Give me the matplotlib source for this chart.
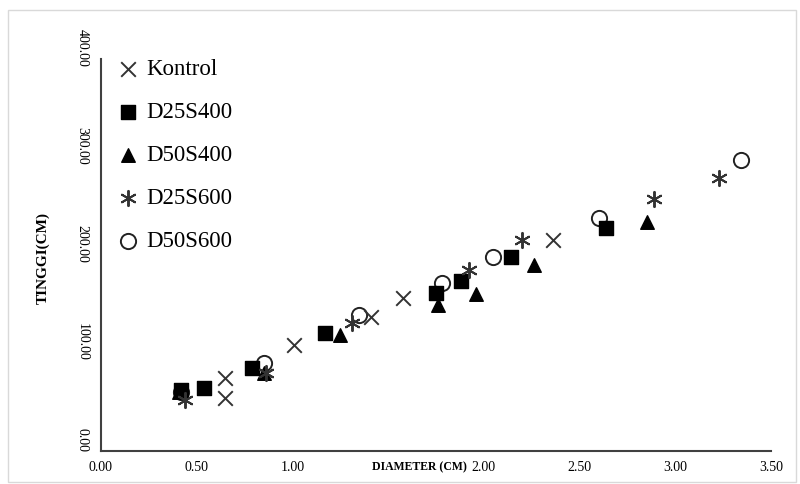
import numpy as np
import matplotlib
matplotlib.use("Agg")
import matplotlib.pyplot as plt
from matplotlib.transforms import ScaledTranslation
from matplotlib.patches import Rectangle

plt.rcParams["font.family"] = ["Liberation Serif", "DejaVu Serif"]

# data (diameter cm, tinggi cm)
kontrol_x = [0.65, 0.65, 1.01, 1.41, 1.58, 2.36]
kontrol_y = [75, 54, 108, 137, 156, 215]
d25s400_x = [0.42, 0.54, 0.79, 1.17, 1.75, 1.88, 2.14, 2.64]
d25s400_y = [62, 64, 85, 120, 161, 174, 198, 228]
d50s400_x = [0.41, 0.85, 1.25, 1.76, 1.96, 2.26, 2.85]
d50s400_y = [60, 80, 118, 149, 160, 190, 234]
d25s600_x = [0.44, 0.86, 1.31, 1.92, 2.20, 2.89, 3.23]
d25s600_y = [52, 80, 131, 185, 215, 257, 279]
d50s600_x = [0.42, 0.85, 1.35, 1.78, 2.05, 2.60, 3.34]
d50s600_y = [60, 90, 139, 172, 198, 238, 297]

x_ticks = [0.0, 0.5, 1.0, 1.5, 2.0, 2.5, 3.0, 3.5]
y_ticks = [0, 100, 200, 300, 400]

fig = plt.figure(figsize=(8, 4.84), dpi=100)
fig.patches.append(Rectangle((0.01, 0.005), 0.985, 0.975, transform=fig.transFigure,
                             fill=False, edgecolor="#d9d9d9", lw=1))
ax = fig.add_axes([0.126, 0.068, 0.838, 0.81])

ax.scatter(d50s600_x, d50s600_y, marker="o", s=120, facecolors="white",
           edgecolors="#222222", linewidths=1.4, label="D50S600", zorder=2)
ax.scatter(kontrol_x, kontrol_y, marker="x", s=110, color="#333333",
           linewidths=1.4, label="Kontrol", zorder=3)
ax.scatter(d25s400_x, d25s400_y, marker="s", s=110, color="black",
           label="D25S400", zorder=4)
ax.scatter(d50s400_x, d50s400_y, marker="^", s=95, color="black",
           label="D50S400", zorder=5)
ax.scatter(d25s600_x, d25s600_y, marker=(6, 2, 0), s=120, color="#333333",
           linewidths=1.4, label="D25S600", zorder=6)

ax.set_xlim(0, 3.5)
ax.set_ylim(0, 400)
ax.set_xticks(x_ticks)
ax.set_xticklabels([f"{v:.2f}" for v in x_ticks], fontsize=10)
ax.set_yticks(y_ticks)
ax.set_yticklabels([f"{v:.2f}" for v in y_ticks], fontsize=10, rotation=-90, va="center")
ax.tick_params(axis="both", length=0)
ax.tick_params(axis="x", pad=7)
ax.tick_params(axis="y", pad=9)
off = ScaledTranslation(0, 0.11, fig.dpi_scale_trans)
for lab in ax.get_yticklabels():
    lab.set_transform(lab.get_transform() + off)

for s in ["top", "right"]:
    ax.spines[s].set_visible(False)
for s in ["left", "bottom"]:
    ax.spines[s].set_color("#404040")
    ax.spines[s].set_linewidth(1.5)

fig.text(419 / 800, 1 - 467 / 484, "DIAMETER (CM)", fontsize=8.5, fontweight="bold",
         ha="center", va="center",
         bbox=dict(facecolor="white", edgecolor="none", pad=2.5))
fig.text(43 / 800, 1 - 258 / 484, "TINGGI(CM)", fontsize=11, fontweight="bold",
         rotation=90, ha="center", va="center")

h, l = ax.get_legend_handles_labels()
order = [1, 2, 3, 4, 0]
ax.legend([h[i] for i in order], [l[i] for i in order], loc="upper left",
          bbox_to_anchor=(-0.005, 1.04), frameon=False, fontsize=16.5,
          handlelength=1.3, handletextpad=0.15, labelspacing=0.95, borderaxespad=0.3)

fig.savefig("out.png", dpi=100)
